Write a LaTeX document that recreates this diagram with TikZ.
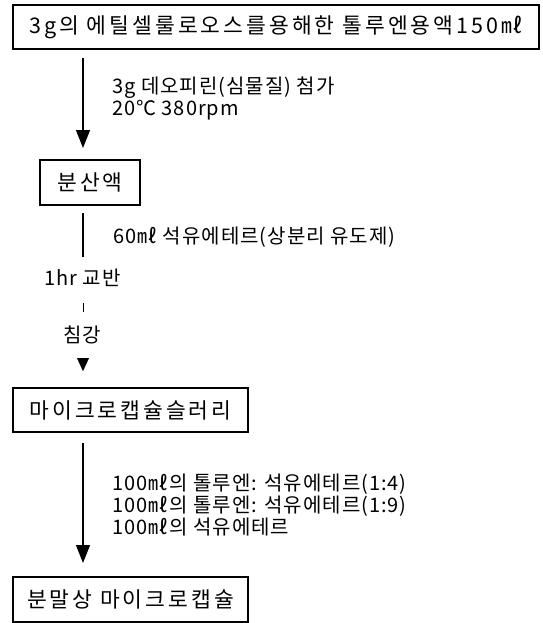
\documentclass[tikz,border=0pt]{standalone}
\usepackage{fontspec}
\setmainfont{Noto Sans CJK KR}
\newfontfamily\boxfont[LetterSpace=14]{Noto Sans CJK KR}
\newfontfamily\labfont[LetterSpace=5]{Noto Sans CJK KR}
\usetikzlibrary{arrows.meta}
\begin{document}
\begin{tikzpicture}[x=1pt,y=-1pt,
  stepbox/.style={draw,line width=1.1pt,inner sep=0pt,font=\boxfont\fontsize{21.5}{24}\selectfont},
  lab/.style={anchor=west,inner sep=0pt,font=\labfont\fontsize{20}{22}\selectfont},
  flow/.style={line width=1.4pt},
  flowarrow/.style={line width=1.4pt,-{Triangle[length=18pt,width=14pt]}},
  headonly/.style={line width=0.1pt,-{Triangle[length=13pt,width=12pt]}}]
\useasboundingbox (0,0) rectangle (542,623);
% boxes
\node[stepbox,minimum width=526pt,minimum height=44pt] (b1) at (276,27) {3g의 에틸셀룰로오스를용해한 톨루엔용액150㎖};
\node[stepbox,minimum width=100pt,minimum height=45pt] (b2) at (90,182.5) {분산액};
\node[stepbox,minimum width=235pt,minimum height=44pt] (b3) at (130.5,410) {마이크로캡슐슬러리};
\node[stepbox,minimum width=235pt,minimum height=45pt] (b4) at (130.5,599.5) {분말상 마이크로캡슐};
% spine coordinates
\coordinate (a1s) at (83,58);
\coordinate (a1e) at (83,148);
\coordinate (l2s) at (83,213);
\coordinate (l2e) at (83,257);
\coordinate (tks) at (83,303);
\coordinate (tke) at (83,312);
\coordinate (hds) at (83,358);
\coordinate (hde) at (83,371);
\coordinate (a3s) at (83,443);
\coordinate (a3e) at (83,563);
% connectors
\draw[flowarrow] (a1s) -- (a1e);
\draw[flow] (l2s) -- (l2e);
\draw[line width=1pt] (tks) -- (tke);
\draw[headonly] (hds) -- (hde);
\draw[flowarrow] (a3s) -- (a3e);
% labels
\node[lab] (t1) at (112,88) {3g 데오피린(심물질) 첨가};
\node[lab] (t2) at (112,110) {20℃ 380rpm};
\node[lab] (t3) at (113,237) {60㎖ 석유에테르(상분리 유도제)};
\node[lab] (t4) at (44,278) {1hr 교반};
\node[inner sep=0pt,font=\labfont\fontsize{20}{22}\selectfont] (t5) at (82,335) {침강};
\node[lab] (t6) at (112,484) {100㎖의 톨루엔: 석유에테르(1:4)};
\node[lab] (t7) at (112,506) {100㎖의 톨루엔: 석유에테르(1:9)};
\node[lab] (t8) at (112,527) {100㎖의 석유에테르};
\end{tikzpicture}
\end{document}
